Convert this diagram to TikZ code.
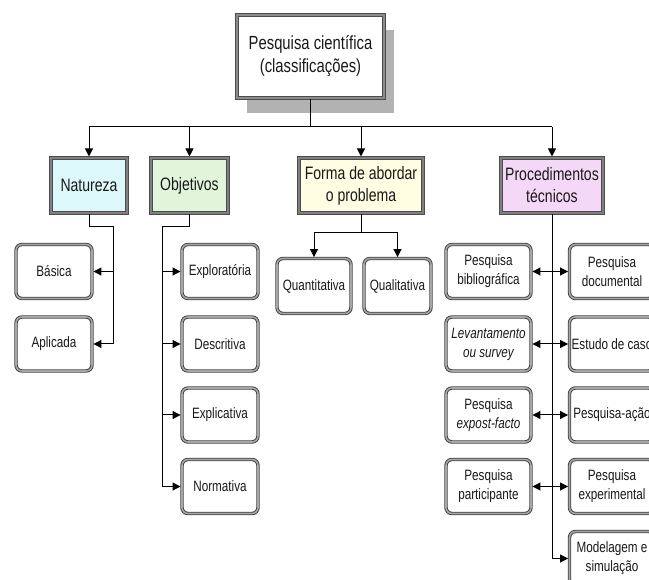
\documentclass[tikz,border=0pt]{standalone}
\usepackage{fontspec}
\setmainfont[FakeStretch=0.78]{Liberation Sans}
\usetikzlibrary{arrows.meta,shadows}
\definecolor{cnat}{HTML}{DDF8FB}
\definecolor{cobj}{HTML}{E0F5DA}
\definecolor{cfor}{HTML}{FFFDE2}
\definecolor{cpro}{HTML}{F5D8F8}
\tikzset{
  x=1pt, y=-1pt,
  leaf/.style={draw=black!75, double=black!35, double distance=1.6pt, line width=0.9pt,
    rounded corners=6pt, fill=white, minimum width=76pt, minimum height=54pt,
    align=center, font=\fontsize{15}{19}\selectfont, inner sep=1pt, text=black!90},
  catbox/.style={draw=black!70, double=black!50, double distance=2pt, line width=1.1pt,
    minimum height=55pt, align=center, font=\fontsize{18}{22}\selectfont, inner sep=1pt, text=black!90},
  topbox/.style={draw=black!70, double=black!45, double distance=2pt, line width=1.3pt,
    fill=white, minimum width=147pt, minimum height=83pt, align=center,
    font=\fontsize{19}{23}\selectfont, text=black!90,
    drop shadow={shadow xshift=10pt, shadow yshift=-15pt, fill=black!30, opacity=1}},
  conn/.style={line width=1pt, black},
  arr/.style={conn, -{Triangle[length=8pt,width=8pt]}, shorten >=1pt},
  darr/.style={conn, {Triangle[length=8pt,width=8pt]}-{Triangle[length=8pt,width=8pt]}, shorten >=1pt, shorten <=1pt},
}
\begin{document}
\begin{tikzpicture}
\useasboundingbox (0,0) rectangle (649,580);
\clip (0,0) rectangle (649,580);

% top
\node[topbox] (top) at (310.5,56.5) {Pesquisa científica\\(classificações)};

% categories
\node[catbox, fill=cnat, minimum width=76pt] (nat) at (89,185.5) {Natureza};
\node[catbox, fill=cobj, minimum width=77pt] (obj) at (189.5,185.5) {Objetivos};
\node[catbox, fill=cfor, minimum width=124pt] (forma) at (361,185.5) {Forma de abordar\\o problema};
\node[catbox, fill=cpro, minimum width=102pt] (proc) at (552,185.5) {Procedimentos\\técnicos};

% natureza
\node[leaf] (bas) at (54,271.5) {Básica};
\node[leaf] (apl) at (54,344) {Aplicada};
% objetivos
\node[leaf] (exp) at (220,271.5) {Exploratória};
\node[leaf] (des) at (220,344) {Descritiva};
\node[leaf] (ecl) at (220,415) {Explicativa};
\node[leaf] (nor) at (220,486.5) {Normativa};
% forma
\node[leaf, minimum width=74pt, minimum height=55pt] (quan) at (314,286) {Quantitativa};
\node[leaf, minimum width=67pt, minimum height=55pt] (qual) at (397.5,286) {Qualitativa};
% procedimentos
\node[leaf, minimum width=85pt] (bib) at (488.5,271.5) {Pesquisa\\bibliográfica};
\node[leaf, minimum width=85pt] (lev) at (488.5,344) {\itshape Levantamento\\\itshape ou survey};
\node[leaf, minimum width=85pt] (epf) at (488.5,415) {Pesquisa\\\textit{expost-facto}};
\node[leaf, minimum width=85pt] (par) at (488.5,486.5) {Pesquisa\\participante};
\node[leaf, minimum width=85pt] (doc) at (612,271.5) {Pesquisa\\documental};
\node[leaf, minimum width=85pt] (est) at (612,344) {Estudo de caso};
\node[leaf, minimum width=85pt] (aca) at (612,415) {Pesquisa-ação};
\node[leaf, minimum width=85pt] (exper) at (612,486.5) {Pesquisa\\experimental};
\node[leaf, minimum width=85pt] (mod) at (612,558.5) {Modelagem e\\simulação};

% bus from top
\coordinate (bus) at (0,127);
\draw[conn] (top.south) -- (top.south |- bus);
\draw[conn] (nat.north |- bus) -- (proc.north |- bus);
\foreach \n in {nat,obj,forma,proc} \draw[arr] (\n.north |- bus) -- (\n.north);

% natureza branch
\coordinate (natj) at (113,227);
\draw[conn] (nat.south) |- (natj) -- (natj |- apl.east);
\draw[arr] (natj |- bas.east) -- (bas.east);
\draw[arr] (natj |- apl.east) -- (apl.east);

% objetivos branch
\coordinate (objj) at (162,227);
\draw[conn] (obj.south) |- (objj) -- (objj |- nor.west);
\foreach \n in {exp,des,ecl,nor} \draw[arr] (objj |- \n.west) -- (\n.west);

% forma branch
\coordinate (forj) at (361,233);
\draw[conn] (forma.south) -- (forj);
\draw[arr] (forj) -| (quan.north);
\draw[arr] (forj) -| (qual.north);

% procedimentos branch
\draw[conn] (proc.south) -- (proc.south |- mod.west);
\draw[arr] (proc.south |- mod.west) -- (mod.west);
\draw[darr] (bib.east) -- (doc.west);
\draw[darr] (lev.east) -- (est.west);
\draw[darr] (epf.east) -- (aca.west);
\draw[darr] (par.east) -- (exper.west);
\end{tikzpicture}
\end{document}
